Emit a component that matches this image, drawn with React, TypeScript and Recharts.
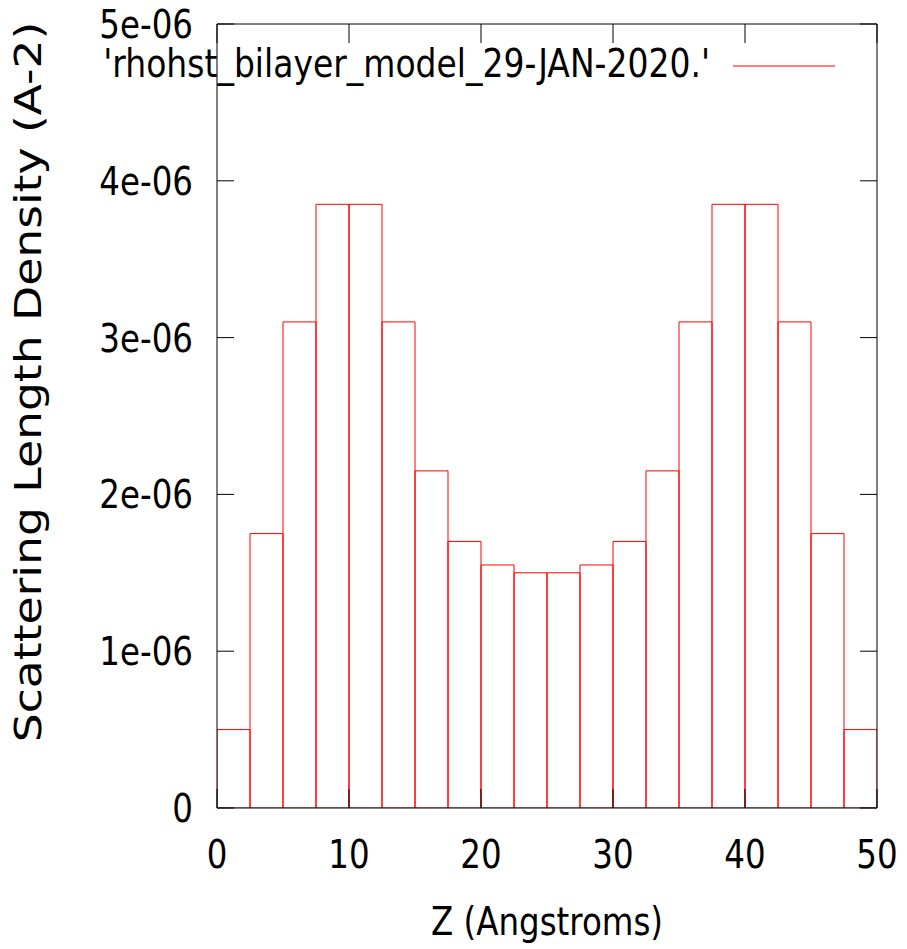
import React from 'react';
import { BarChart, Bar, XAxis, YAxis, Legend, ReferenceLine } from 'recharts';

// bin centres along Z (Angstroms), 2.5 A wide bins
const zBins = [
  1.25, 3.75, 6.25, 8.75, 11.25, 13.75, 16.25, 18.75, 21.25, 23.75,
  26.25, 28.75, 31.25, 33.75, 36.25, 38.75, 41.25, 43.75, 46.25, 48.75,
];
// scattering length density per bin (A-2)
const sld = [
  0.5e-6, 1.75e-6, 3.1e-6, 3.85e-6, 3.85e-6, 3.1e-6, 2.15e-6, 1.7e-6, 1.55e-6, 1.5e-6,
  1.5e-6, 1.55e-6, 1.7e-6, 2.15e-6, 3.1e-6, 3.85e-6, 3.85e-6, 3.1e-6, 1.75e-6, 0.5e-6,
];
const zTicks = [0, 10, 20, 30, 40, 50];
const sldTicks = [0, 1e-6, 2e-6, 3e-6, 4e-6, 5e-6];
const seriesName = "'rhohst_bilayer_model_29-JAN-2020.'";

const rows = zBins.map((z, i) => ({ z, sld: sld[i] }));

const FONT = 'DejaVu Sans';
const STRETCH = 1.2;
const RED = '#ff0000';
const INK = '#000000';
const TICK_X = 17; // inward length of ticks on the left/right borders
const TICK_Y = 19; // inward length of ticks on the top/bottom borders

const sciLabel = (v: number) => (v === 0 ? '0' : `${Math.round(v * 1e6)}e-06`);

const Stretched = ({ x, y, anchor, size, children }: any) => (
  <text
    transform={`translate(${x},${y}) scale(1,${STRETCH})`}
    textAnchor={anchor}
    fontFamily={FONT}
    fontSize={size}
    fill={INK}
  >
    {children}
  </text>
);

const YTickLabel = ({ x, y, payload }: any) => (
  <Stretched x={x - 24} y={y + 14} anchor="end" size={32.5}>
    {sciLabel(payload.value)}
  </Stretched>
);

const XTickLabel = ({ x, y, payload }: any) => (
  <Stretched x={x} y={y + 60} anchor="middle" size={32.5}>
    {payload.value}
  </Stretched>
);

// gnuplot-style inward tick marks at both ends of a full-height/full-width reference line
const VerticalTicks = ({ x1, y1, x2, y2 }: any) => {
  const top = Math.min(y1, y2);
  const bottom = Math.max(y1, y2);
  return (
    <g>
      <line x1={x1} y1={top} x2={x2} y2={top + TICK_Y} stroke={INK} />
      <line x1={x1} y1={bottom} x2={x2} y2={bottom - TICK_Y} stroke={INK} />
    </g>
  );
};

const HorizontalTicks = ({ x1, y1, x2, y2 }: any) => {
  const left = Math.min(x1, x2);
  const right = Math.max(x1, x2);
  return (
    <g>
      <line x1={left} y1={y1} x2={left + TICK_X} y2={y2} stroke={INK} />
      <line x1={right} y1={y1} x2={right - TICK_X} y2={y2} stroke={INK} />
    </g>
  );
};

const XTitle = ({ viewBox }: any) => (
  <Stretched x={viewBox.x + viewBox.width / 2} y={viewBox.y + 127} anchor="middle" size={32.5}>
    Z (Angstroms)
  </Stretched>
);

const YTitle = ({ viewBox }: any) => (
  <text
    transform={`translate(${viewBox.x + 41},${viewBox.y + viewBox.height / 2 - 34}) rotate(-90) scale(${STRETCH},1)`}
    textAnchor="middle"
    fontFamily={FONT}
    fontSize={38}
    fill={INK}
  >
    Scattering Length Density (A-2)
  </text>
);

const KeyBox = ({ payload }: any) => {
  const entry = payload && payload[0];
  return (
    <svg width={907} height={90} style={{ display: 'block' }}>
      <Stretched x={710} y={77} anchor="end" size={33}>
        {entry ? entry.value : seriesName}
      </Stretched>
      <line x1={733} y1={66} x2={835} y2={66} stroke={RED} />
    </svg>
  );
};

export default function App() {
  return (
    <div style={{ width: 907, height: 949, background: '#fff' }}>
      <style>{'body { margin: 0; }'}</style>
      <BarChart
        width={907}
        height={949}
        data={rows}
        margin={{ top: 24, right: 30, bottom: 0, left: 0 }}
        barCategoryGap={0}
        barGap={0}
      >
        <XAxis
          dataKey="z"
          type="number"
          domain={[0, 50]}
          ticks={zTicks}
          allowDataOverflow
          height={141}
          tickSize={0}
          tickMargin={0}
          tickLine={false}
          axisLine={{ stroke: INK }}
          tick={<XTickLabel />}
          label={{ content: <XTitle /> }}
        />
        <YAxis
          type="number"
          domain={[0, 5e-6]}
          ticks={sldTicks}
          allowDataOverflow
          width={217}
          tickSize={0}
          tickMargin={0}
          tickLine={false}
          axisLine={{ stroke: INK }}
          tick={<YTickLabel />}
          label={{ content: <YTitle /> }}
        />
        <Legend
          layout="horizontal"
          verticalAlign="middle"
          align="center"
          wrapperStyle={{ top: 0, left: 0, width: 907, height: 90 }}
          content={<KeyBox />}
        />
        <Bar
          dataKey="sld"
          name={seriesName}
          fill="none"
          stroke={RED}
          strokeWidth={1}
          isAnimationActive={false}
        />
        {/* top and right borders */}
        <ReferenceLine y={5e-6} stroke={INK} />
        <ReferenceLine x={50} stroke={INK} />
        {zTicks.map((t) => (
          <ReferenceLine key={`zt-${t}`} x={t} shape={<VerticalTicks />} />
        ))}
        {sldTicks.map((t) => (
          <ReferenceLine key={`st-${t}`} y={t} shape={<HorizontalTicks />} />
        ))}
      </BarChart>
    </div>
  );
}
